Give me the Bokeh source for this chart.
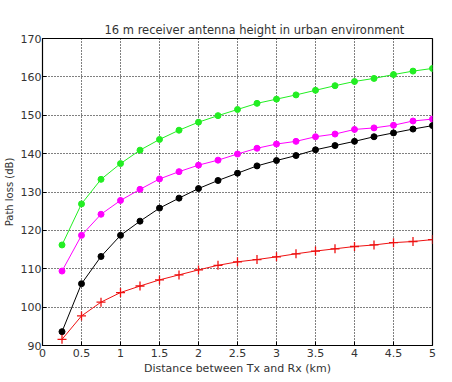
from bokeh.plotting import figure
from bokeh.models import Range1d, FixedTicker, Title
from bokeh.embed import file_html
from bokeh.resources import INLINE

distance_km = [0.25, 0.5, 0.75, 1.0, 1.25, 1.5, 1.75, 2.0, 2.25, 2.5,
               2.75, 3.0, 3.25, 3.5, 3.75, 4.0, 4.25, 4.5, 4.75, 5.0]
green_loss = [116.2, 126.9, 133.3, 137.4, 140.9, 143.7, 146.1, 148.2, 149.9, 151.5,
              153.1, 154.2, 155.3, 156.5, 157.7, 158.8, 159.6, 160.6, 161.5, 162.2]
magenta_loss = [109.4, 118.7, 124.2, 127.8, 130.7, 133.4, 135.3, 137.0, 138.3, 139.9,
                141.4, 142.5, 143.2, 144.4, 145.1, 146.3, 146.7, 147.4, 148.5, 149.0]
black_loss = [93.6, 106.1, 113.2, 118.7, 122.4, 125.8, 128.4, 130.9, 133.0, 134.9,
              136.8, 138.2, 139.5, 141.0, 142.1, 143.2, 144.4, 145.4, 146.4, 147.3]
red_loss = [91.6, 97.7, 101.3, 103.8, 105.5, 107.1, 108.4, 109.7, 110.9, 111.8,
            112.4, 113.1, 113.9, 114.6, 115.2, 115.8, 116.2, 116.8, 117.1, 117.6]

x_ticks = [0, 0.5, 1, 1.5, 2, 2.5, 3, 3.5, 4, 4.5, 5]
x_tick_labels = ["0", "0.5", "1", "1.5", "2", "2.5", "3", "3.5", "4", "4.5", "5"]
y_ticks = [90, 100, 110, 120, 130, 140, 150, 160, 170]

FONT = "DejaVu Sans"
TXT = "#333333"

p = figure(frame_width=390, frame_height=307, output_backend="svg", toolbar_location=None,
           x_range=Range1d(0, 5), y_range=Range1d(90, 170),
           min_border_left=40, min_border_right=6, min_border_top=38, min_border_bottom=0)

p.title = Title(text="16 m receiver antenna height in urban environment", align="left",
                text_font=FONT, text_font_size="11.5px", text_font_style="normal",
                text_color=TXT, offset=62, standoff=4)

p.outline_line_color = "black"
p.outline_line_width = 1.2
p.background_fill_color = "white"
p.border_fill_color = "white"

for ax in (p.xaxis[0], p.yaxis[0]):
    ax.axis_line_color = None
    ax.major_tick_in = 4
    ax.major_tick_out = 0
    ax.major_tick_line_color = "black"
    ax.minor_tick_line_color = None
    ax.major_label_text_font = FONT
    ax.major_label_text_font_size = "11px"
    ax.major_label_text_color = TXT
    ax.axis_label_text_font = FONT
    ax.axis_label_text_font_size = "11px"
    ax.axis_label_text_font_style = "normal"
    ax.axis_label_text_color = TXT

p.yaxis.axis_label_text_font_size = "10px"
p.xaxis.ticker = FixedTicker(ticks=x_ticks)
p.xaxis.major_label_overrides = {t: l for t, l in zip(x_ticks, x_tick_labels)}
p.yaxis.ticker = FixedTicker(ticks=y_ticks)
p.xaxis.axis_label = "Distance between Tx and Rx (km)"
p.yaxis.axis_label = "Path loss (dB)"
p.xaxis.major_label_standoff = 3
p.xaxis.axis_label_standoff = 2
p.yaxis.major_label_standoff = 1
p.yaxis.axis_label_standoff = 3

p.xgrid.grid_line_color = "black"
p.ygrid.grid_line_color = "black"
p.xgrid.grid_line_dash = "1 2"
p.ygrid.grid_line_dash = "1 2"
p.xgrid.grid_line_width = 1
p.ygrid.grid_line_width = 1

series = [
    (green_loss, "#22ee22", "circle"),
    (magenta_loss, "#ff00ff", "circle"),
    (black_loss, "#000000", "circle"),
    (red_loss, "#ee1111", "cross"),
]
for ys, col, mk in series:
    p.line(distance_km, ys, line_color=col, line_width=1)
    if mk == "circle":
        p.scatter(distance_km, ys, marker="circle", size=6, fill_color=col, line_color=col)
    else:
        p.scatter(distance_km, ys, marker="cross", size=9, line_color=col, line_width=1.3)

open("out.html", "w").write(file_html(p, INLINE))
